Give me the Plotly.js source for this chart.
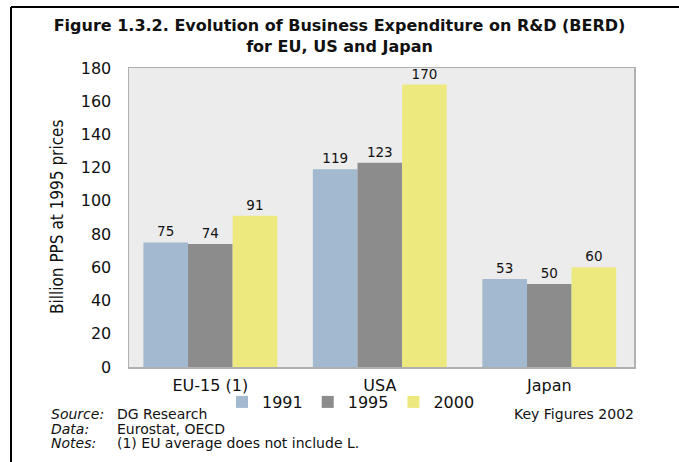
<!DOCTYPE html>
<html><head><meta charset="utf-8">
<script src="https://cdn.plot.ly/plotly-3.0.1.min.js"></script>
<style>body{margin:0;padding:0;background:#fff}#chart{width:679px;height:462px}</style>
</head><body><div id="chart"></div>
<script>
const categories = ["EU-15 (1)", "USA", "Japan"];
const seriesNames = ["1991", "1995", "2000"];
const values1991 = [75, 119, 53];
const values1995 = [74, 123, 50];
const values2000 = [91, 170, 60];
const colors = ["#a2b9cf", "#8c8c8c", "#ede97f"];
const yTicks = [0, 20, 40, 60, 80, 100, 120, 140, 160, 180];

const allValues = [values1991, values1995, values2000];
const font = "'DejaVu Sans', 'Open Sans', sans-serif";
const traces = allValues.map((v, i) => ({
  type: "bar", x: categories, y: v, name: seriesNames[i],
  marker: {color: colors[i], line: {width: 0}},
  text: v.map(String), textposition: "outside", cliponaxis: false,
  textfont: {family: font, size: 13.5, color: "#111"}
}));

const L = 129, R = 634, T = 68, B = 367;
const W = R - L, H = B - T;
const px = x => (x - L) / W, py = y => (B - y) / H;
const foot = {family: font, size: 14, color: "#111"};

const layout = {
  width: 679, height: 462,
  margin: {l: L, r: 679 - R, t: T, b: 462 - B},
  paper_bgcolor: "#ffffff", plot_bgcolor: "#ececec",
  barmode: "group", bargap: 0.21, bargroupgap: 0,
  showlegend: true,
  legend: {orientation: "h", x: px(222), xanchor: "left", y: py(402), yanchor: "middle",
    bgcolor: "rgba(0,0,0,0)", font: {family: font, size: 16, color: "#111"}, itemwidth: 30, traceorder: "normal"},
  title: {text: "<b>Figure 1.3.2. Evolution of Business Expenditure on R&D (BERD)<br>for EU, US and Japan</b>",
    font: {family: font, size: 16, color: "#111"}, x: 0.5, xanchor: "center", y: 1 - 31/462, yanchor: "middle"},
  xaxis: {range: [-0.48, 2.5], showline: true, linecolor: "#b0b0b0", linewidth: 1.5, mirror: true,
    tickfont: {family: font, size: 16, color: "#111"}, ticks: "outside", ticklen: 3, tickcolor: "rgba(0,0,0,0)",
    showgrid: false, zeroline: false},
  yaxis: {range: [0, 180], tickvals: yTicks, ticktext: yTicks.map(String),
    showline: true, linecolor: "#b0b0b0", linewidth: 1.5, mirror: true, showgrid: false, zeroline: false,
    tickfont: {family: font, size: 16, color: "#111"}, ticks: "outside", ticklen: 13, tickcolor: "rgba(0,0,0,0)"},
  shapes: [
    {type: "line", xref: "paper", yref: "paper", x0: px(11), x1: px(679), y0: py(7), y1: py(7), line: {color: "#000", width: 2}},
    {type: "line", xref: "paper", yref: "paper", x0: px(11), x1: px(11), y0: py(7), y1: py(462), line: {color: "#000", width: 2}}
  ],
  annotations: [
    {text: "Billion PPS at 1995 prices", xref: "paper", yref: "paper", x: px(45), y: py(217), textangle: -90,
      showarrow: false, font: {family: "'Liberation Sans Narrow', 'DejaVu Sans Condensed', sans-serif", size: 17, color: "#111"}},
    {text: "<i>Source:</i>", xref: "paper", yref: "paper", x: px(49), y: py(424), xanchor: "left", showarrow: false, font: foot},
    {text: "<i>Data:</i>", xref: "paper", yref: "paper", x: px(49), y: py(438.5), xanchor: "left", showarrow: false, font: foot},
    {text: "<i>Notes:</i>", xref: "paper", yref: "paper", x: px(49), y: py(453), xanchor: "left", showarrow: false, font: foot},
    {text: "DG Research", xref: "paper", yref: "paper", x: px(115), y: py(424), xanchor: "left", showarrow: false, font: foot},
    {text: "Eurostat, OECD", xref: "paper", yref: "paper", x: px(115), y: py(438.5), xanchor: "left", showarrow: false, font: foot},
    {text: "(1) EU average does not include L.", xref: "paper", yref: "paper", x: px(115), y: py(453), xanchor: "left", showarrow: false, font: foot},
    {text: "Key Figures 2002", xref: "paper", yref: "paper", x: px(636), y: py(424), xanchor: "right", showarrow: false, font: foot}
  ]
};
Plotly.newPlot("chart", traces, layout, {displayModeBar: false, staticPlot: true});
</script></body></html>
